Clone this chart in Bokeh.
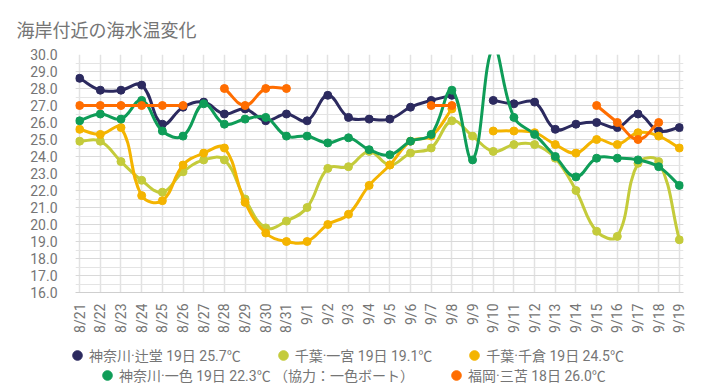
import math
from bokeh.plotting import figure
from bokeh.layouts import column
from bokeh.models import (Range1d, FixedTicker, SingleIntervalTicker, NumeralTickFormatter,
                          Legend, LegendItem)
from bokeh.embed import file_html
from bokeh.resources import INLINE

title_text = "海岸付近の海水温変化"

dates = ["8/21", "8/22", "8/23", "8/24", "8/25", "8/26", "8/27", "8/28", "8/29", "8/30", "8/31",
         "9/1", "9/2", "9/3", "9/4", "9/5", "9/6", "9/7", "9/8", "9/9", "9/10", "9/11", "9/12",
         "9/13", "9/14", "9/15", "9/16", "9/17", "9/18", "9/19"]

tsujido = [28.6, 27.9, 27.9, 28.2, 25.9, 26.9, 27.2, 26.5, 26.8, 26.1, 26.5,
           26.1, 27.6, 26.3, 26.2, 26.2, 26.9, 27.3, 27.6, None, 27.3, 27.1, 27.2,
           25.6, 25.9, 26.0, 25.7, 26.5, 25.5, 25.7]
ichinomiya = [24.9, 24.9, 23.7, 22.6, 21.9, 23.1, 23.8, 23.8, 21.5, 19.8, 20.2,
              21.0, 23.3, 23.4, 24.3, 23.5, 24.2, 24.5, 26.1, 25.2, 24.3, 24.7, 24.7,
              23.9, 22.0, 19.6, 19.3, 23.6, 23.7, 19.1]
chikura = [25.6, 25.3, 25.7, 21.7, 21.4, 23.5, 24.2, 24.5, 21.3, 19.5, 19.0,
           19.0, 20.0, 20.6, 22.3, 23.5, 24.9, 25.2, 26.8, None, 25.5, 25.5, 25.4,
           24.7, 24.2, 25.0, 24.7, 25.4, 25.2, 24.5]
isshiki = [26.1, 26.5, 26.2, 27.3, 25.5, 25.2, 27.1, 25.9, 26.2, 26.3, 25.2,
           25.2, 24.8, 25.1, 24.4, 24.1, 24.9, 25.3, 27.9, 23.8, 30.4, 26.3, 25.3,
           24.0, 22.8, 23.9, 23.9, 23.8, 23.4, 22.3]
mitoma = [27.0, 27.0, 27.0, 27.0, 27.0, 27.0, None, 28.0, 27.0, 28.0, 28.0,
          None, None, None, None, None, None, 27.0, 27.0, None, None, None, None,
          None, None, 27.0, 26.0, 25.0, 26.0, None]

series_names = ["神奈川·辻堂 19日 25.7℃", "千葉·一宮 19日 19.1℃", "千葉·千倉 19日 24.5℃",
                "神奈川·一色 19日 22.3℃ （協力：一色ボート）", "福岡·三苫 18日 26.0℃"]
series_values = [tsujido, ichinomiya, chikura, isshiki, mitoma]
series_colors = ["#2c2a5f", "#c4cb3b", "#f4b400", "#0f9d58", "#ff6d00"]

PX_X = 20.69
PX_Y = 17.05
TENSION = 0.4
FONT = "Roboto, 'Noto Sans CJK JP', sans-serif"
GREY = "#757575"


def segments(vals):
    segs, cur = [], []
    for i, v in enumerate(vals):
        if v is None:
            if cur:
                segs.append(cur)
            cur = []
        else:
            cur.append((i, v))
    if cur:
        segs.append(cur)
    return segs


def bezier_parts(vals):
    out = dict(x0=[], y0=[], x1=[], y1=[], cx0=[], cy0=[], cx1=[], cy1=[])
    for seg in segments(vals):
        n = len(seg)
        cps = []
        for k in range(n):
            x1, y1 = seg[k]
            x0, y0 = seg[k - 1] if k > 0 else seg[k]
            x2, y2 = seg[k + 1] if k < n - 1 else seg[k]
            d01 = math.hypot((x1 - x0) * PX_X, (y1 - y0) * PX_Y)
            d12 = math.hypot((x2 - x1) * PX_X, (y2 - y1) * PX_Y)
            s = d01 + d12
            fa = TENSION * d01 / s if s else 0.0
            fb = TENSION * d12 / s if s else 0.0
            cps.append(((x1 - fa * (x2 - x0), y1 - fa * (y2 - y0)),
                        (x1 + fb * (x2 - x0), y1 + fb * (y2 - y0))))
        for k in range(n - 1):
            out["x0"].append(seg[k][0]); out["y0"].append(seg[k][1])
            out["x1"].append(seg[k + 1][0]); out["y1"].append(seg[k + 1][1])
            out["cx0"].append(cps[k][1][0]); out["cy0"].append(cps[k][1][1])
            out["cx1"].append(cps[k + 1][0][0]); out["cy1"].append(cps[k + 1][0][1])
    return out


p = figure(width=710, height=335, output_backend="svg", toolbar_location=None,
           x_range=Range1d(-0.2, 29.2), y_range=Range1d(16, 30),
           min_border_left=75, min_border_right=27, min_border_top=54, min_border_bottom=42,
           background_fill_color="white", border_fill_color="white")
p.outline_line_color = None

p.title.text = title_text
p.title.text_font = "'Noto Sans CJK JP', sans-serif"
p.title.text_font_size = "18px"
p.title.text_font_style = "normal"
p.title.text_color = GREY
p.title.align = "left"
p.title.offset = -59
p.title.standoff = 26

# axes
p.yaxis.ticker = SingleIntervalTicker(interval=1, num_minor_ticks=2)
p.yaxis.formatter = NumeralTickFormatter(format="0.0")
p.yaxis.axis_line_color = None
p.yaxis.major_tick_line_color = None
p.yaxis.minor_tick_line_color = None
p.yaxis.major_label_standoff = 12
p.yaxis.major_label_text_font = FONT
p.yaxis.major_label_text_font_size = "14px"
p.yaxis.major_label_text_color = GREY

p.xaxis.ticker = FixedTicker(ticks=list(range(len(dates))))
p.xaxis.major_label_overrides = {i: d for i, d in enumerate(dates)}
p.xaxis.major_label_orientation = math.pi / 2
p.xaxis.axis_line_color = "#cfcfcf"
p.xaxis.major_tick_line_color = None
p.xaxis.minor_tick_line_color = None
p.xaxis.major_label_standoff = 5
p.xaxis.major_label_text_font = FONT
p.xaxis.major_label_text_font_size = "14px"
p.xaxis.major_label_text_color = GREY

p.xgrid.grid_line_color = "#e2e2e2"
p.xgrid.grid_line_width = 1.5
p.ygrid.grid_line_color = "#d9d9d9"
p.ygrid.minor_grid_line_color = "#e4e4e4"

for vals, col in zip(series_values, series_colors):
    parts = bezier_parts(vals)
    p.bezier(source=parts, x0="x0", y0="y0", x1="x1", y1="y1", cx0="cx0", cy0="cy0",
             cx1="cx1", cy1="cy1", line_color=col, line_width=3, line_cap="round")
    xs = [i for i, v in enumerate(vals) if v is not None]
    ys = [v for v in vals if v is not None]
    p.scatter(xs, ys, size=8, color=col)

# legend strip (separate figure below the chart); its glyphs sit outside its ranges
lg = figure(width=710, height=53, output_backend="svg", toolbar_location=None,
            x_range=Range1d(0, 1), y_range=Range1d(0, 1), min_border=0,
            background_fill_color="white", border_fill_color="white")
lg.outline_line_color = None
lg.axis.visible = False
lg.grid.visible = False
if "frame_align" in lg.properties():
    lg.frame_align = False

items = []
for name, col in zip(series_names, series_colors):
    r = lg.scatter(x=[5], y=[5], color=col)
    items.append(LegendItem(label=name, renderers=[r]))


def make_legend(its, loc):
    return Legend(items=its, orientation="horizontal", location=loc,
                  glyph_width=24, glyph_height=24, label_standoff=0, spacing=30,
                  padding=0, margin=0, border_line_color=None, background_fill_alpha=0,
                  label_text_font=FONT, label_text_font_size="14px", label_text_color=GREY)


lg.add_layout(make_legend(items[:3], (65, 21)), "center")
lg.add_layout(make_legend(items[3:], (95, 1)), "center")

layout = column(p, lg, spacing=0)
open("out.html", "w").write(file_html(layout, INLINE))
